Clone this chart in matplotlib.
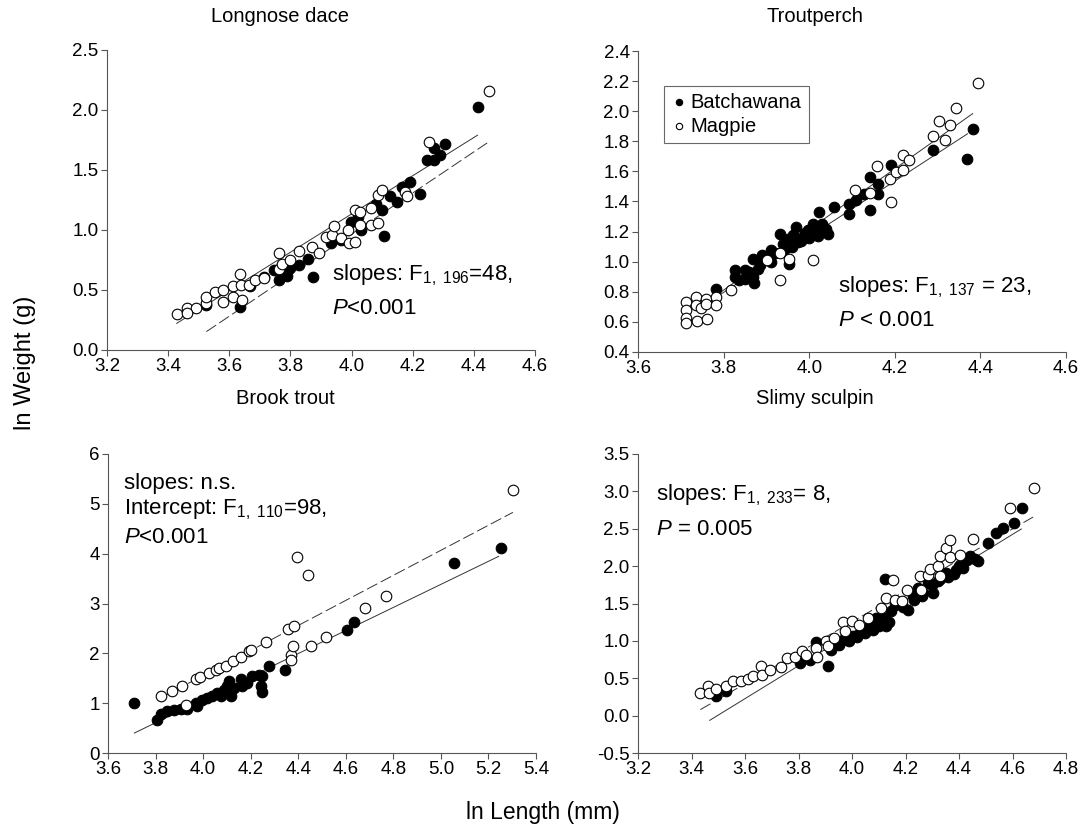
import numpy as np
import matplotlib
matplotlib.use('Agg')
import matplotlib.pyplot as plt
from matplotlib.ticker import FormatStrFormatter, MultipleLocator

plt.rcParams['font.family'] = ['Liberation Sans', 'DejaVu Sans']
plt.rcParams['mathtext.fontset'] = 'custom'
plt.rcParams['mathtext.rm'] = 'Liberation Sans'
plt.rcParams['mathtext.it'] = 'Liberation Sans:italic'

## data (ln length, ln weight)
# Longnose dace
dace_bat_x = [3.525, 3.635, 3.668, 3.712, 3.745, 3.762, 3.775, 3.79, 3.80, 3.828, 3.856, 3.874,
              3.933, 3.966, 3.999, 4.02, 4.03, 4.08, 4.098, 4.107, 4.126, 4.148, 4.165, 4.192,
              4.225, 4.247, 4.269, 4.269, 4.29, 4.307, 4.412]
dace_bat_y = [0.375, 0.36, 0.53, 0.61, 0.667, 0.58, 0.62, 0.617, 0.68, 0.708, 0.756, 0.606,
              0.89, 0.917, 1.07, 1.11, 1.0, 1.22, 1.167, 0.95, 1.28, 1.236, 1.36, 1.40,
              1.297, 1.583, 1.68, 1.583, 1.625, 1.717, 2.022]
dace_mag_x = [3.428, 3.462, 3.492, 3.462, 3.525, 3.525, 3.553, 3.58, 3.58, 3.611, 3.611, 3.635,
              3.638, 3.64, 3.663, 3.685, 3.712, 3.762, 3.762, 3.773, 3.80, 3.828, 3.872, 3.894,
              3.916, 3.935, 3.944, 3.964, 3.988, 3.99, 4.01, 4.01, 4.026, 4.026, 4.065, 4.065,
              4.087, 4.087, 4.098, 4.175, 4.18, 4.252, 4.45]
dace_mag_y = [0.30, 0.347, 0.353, 0.306, 0.394, 0.444, 0.486, 0.50, 0.40, 0.533, 0.444, 0.63,
              0.54, 0.42, 0.54, 0.583, 0.597, 0.81, 0.672, 0.72, 0.75, 0.828, 0.86, 0.81,
              0.94, 0.96, 1.03, 0.93, 1.0, 0.89, 0.90, 1.167, 1.153, 1.04, 1.18, 1.04,
              1.06, 1.29, 1.33, 1.32, 1.28, 1.736, 2.158]
dace_fit_solid = ([3.428, 4.412], [0.222, 1.79])
dace_fit_dash = ([3.525, 4.445], [0.153, 1.728])

# Troutperch
trout_bat_x = [3.783, 3.826, 3.826, 3.837, 3.849, 3.849, 3.868, 3.868, 3.884, 3.89, 3.911, 3.911,
               3.931, 3.938, 3.95, 3.953, 3.962, 3.97, 3.974, 3.985, 3.997, 4.009, 4.009, 4.024,
               4.024, 4.044, 4.059, 4.094, 4.094, 4.11, 4.129, 4.141, 4.143, 4.16, 4.16, 4.19,
               4.29, 4.368, 4.382, 3.86, 3.88, 3.90, 3.92, 3.94, 3.96, 3.98, 4.0, 4.02, 4.03,
               3.87, 3.95, 3.99, 4.04]
trout_bat_y = [0.821, 0.943, 0.898, 0.876, 0.947, 0.887, 0.898, 1.02, 0.976, 1.042, 1.075, 0.998,
               1.186, 1.12, 1.142, 0.987, 1.175, 1.23, 1.131, 1.164, 1.208, 1.186, 1.253, 1.33,
               1.208, 1.182, 1.363, 1.386, 1.315, 1.408, 1.452, 1.563, 1.346, 1.518, 1.452, 1.64,
               1.744, 1.685, 1.884, 0.93, 0.95, 1.02, 1.06, 1.08, 1.10, 1.14, 1.16, 1.17, 1.25,
               0.86, 1.15, 1.19, 1.22]
trout_mag_x = [3.713, 3.713, 3.713, 3.713, 3.736, 3.736, 3.738, 3.748, 3.76, 3.76, 3.761, 3.783,
               3.783, 3.818, 3.901, 3.931, 3.931, 3.952, 4.009, 4.108, 4.142, 4.159, 4.188, 4.19,
               4.203, 4.219, 4.219, 4.234, 4.29, 4.304, 4.318, 4.329, 4.343, 4.394]
trout_mag_y = [0.732, 0.677, 0.628, 0.593, 0.765, 0.71, 0.606, 0.695, 0.754, 0.72, 0.62, 0.765,
               0.71, 0.814, 1.009, 1.058, 0.876, 1.02, 1.009, 1.474, 1.456, 1.634, 1.552, 1.397,
               1.596, 1.607, 1.707, 1.678, 1.833, 1.935, 1.811, 1.906, 2.023, 2.19]
trout_fit_a = ([3.783, 4.382], [0.777, 1.984])
trout_fit_b = ([3.783, 4.37], [0.765, 1.85])

# Brook trout
brook_bat_x = [3.711, 3.804, 3.821, 3.849, 3.877, 3.905, 3.933, 3.968, 3.975, 3.996, 4.017, 4.038,
               4.06, 4.074, 4.088, 4.102, 4.109, 4.116, 4.13, 4.158, 4.165, 4.186, 4.207, 4.235,
               4.242, 4.249, 4.249, 4.277, 4.343, 4.605, 4.636, 5.055, 5.251]
brook_bat_y = [1.003, 0.669, 0.789, 0.836, 0.87, 0.883, 0.883, 1.003, 0.936, 1.07, 1.104, 1.15,
               1.204, 1.137, 1.271, 1.338, 1.438, 1.137, 1.304, 1.485, 1.338, 1.405, 1.538, 1.572,
               1.338, 1.538, 1.217, 1.753, 1.659, 2.462, 2.629, 3.813, 4.107]
brook_mag_x = [3.821, 3.87, 3.912, 3.93, 3.968, 3.989, 4.024, 4.053, 4.067, 4.095, 4.127, 4.158,
               4.193, 4.203, 4.263, 4.358, 4.369, 4.369, 4.38, 4.383, 4.393, 4.442, 4.453, 4.516,
               4.681, 4.769, 5.303]
brook_mag_y = [1.15, 1.24, 1.34, 0.97, 1.485, 1.525, 1.605, 1.66, 1.706, 1.753, 1.84, 1.926,
               2.04, 2.074, 2.221, 2.488, 1.973, 1.873, 2.14, 2.555, 3.933, 3.579, 2.154, 2.328,
               2.91, 3.144, 5.284]
brook_fit_solid = ([3.711, 5.243], [0.401, 3.946])
brook_fit_dash = ([3.821, 5.303], [1.104, 4.829])

# Slimy sculpin
sculp_bat_x = [3.493, 3.53, 3.804, 3.842, 3.867, 3.91, 3.923, 3.966, 3.979, 4.004, 4.029, 4.054,
               4.066, 4.091, 4.116, 4.122, 4.128, 4.147, 4.16, 4.209, 4.228, 4.247, 4.266, 4.284,
               4.303, 4.328, 4.353, 4.39, 4.415, 4.44, 4.471, 4.508, 4.54, 4.565, 4.604, 4.637,
               3.95, 3.99, 4.02, 4.05, 4.08, 4.10, 4.12, 4.14, 4.19, 4.23, 4.26, 4.30, 4.32,
               4.36, 4.38, 4.40, 4.43, 4.46]
sculp_bat_y = [0.258, 0.325, 0.704, 0.749, 0.981, 0.668, 0.882, 1.016, 1.083, 1.061, 1.105, 1.15,
               1.217, 1.306, 1.239, 1.828, 1.194, 1.395, 1.484, 1.418, 1.605, 1.708, 1.641, 1.774,
               1.641, 1.828, 1.908, 1.953, 1.975, 2.131, 2.064, 2.309, 2.443, 2.51, 2.577, 2.778,
               0.95, 1.0, 1.05, 1.10, 1.15, 1.20, 1.30, 1.25, 1.45, 1.55, 1.60, 1.75, 1.80,
               1.85, 1.90, 2.00, 2.08, 2.10]
sculp_mag_x = [3.433, 3.462, 3.465, 3.493, 3.528, 3.555, 3.586, 3.611, 3.63, 3.661, 3.665, 3.692,
               3.736, 3.757, 3.786, 3.814, 3.829, 3.867, 3.869, 3.904, 3.91, 3.931, 3.966, 3.973,
               4.001, 4.026, 4.06, 4.11, 4.126, 4.153, 4.16, 4.188, 4.206, 4.253, 4.259, 4.284,
               4.29, 4.321, 4.328, 4.328, 4.353, 4.365, 4.368, 4.403, 4.452, 4.589, 4.679]
sculp_mag_y = [0.30, 0.392, 0.303, 0.356, 0.392, 0.459, 0.459, 0.49, 0.535, 0.659, 0.548, 0.615,
               0.65, 0.771, 0.784, 0.86, 0.815, 0.905, 0.784, 0.994, 0.927, 1.039, 1.248, 1.128,
               1.261, 1.217, 1.306, 1.44, 1.574, 1.819, 1.551, 1.529, 1.676, 1.872, 1.685, 1.886,
               1.961, 1.997, 1.872, 2.131, 2.242, 2.354, 2.122, 2.153, 2.367, 2.778, 3.045]
sculp_fit_dash = ([3.433, 4.677], [0.08, 2.657])
sculp_fit_solid = ([3.468, 4.633], [-0.063, 2.497])

W, H = 1086, 839
fig = plt.figure(figsize=(W / 100, H / 100), dpi=100)

def px_axes(left, top, right, bottom):
    return fig.add_axes([left / W, 1 - bottom / H, (right - left) / W, (bottom - top) / H])

ms = 58
def style(ax, xlim, xstep, ylim, ystep, yfmt):
    ax.set_xlim(*xlim)
    ax.set_ylim(*ylim)
    ax.xaxis.set_major_locator(MultipleLocator(xstep))
    ax.yaxis.set_major_locator(MultipleLocator(ystep))
    ax.xaxis.set_major_formatter(FormatStrFormatter('%.1f'))
    ax.yaxis.set_major_formatter(FormatStrFormatter(yfmt))
    for s in ['top', 'right']:
        ax.spines[s].set_visible(False)
    for s in ['left', 'bottom']:
        ax.spines[s].set_color('#555555')
        ax.spines[s].set_linewidth(0.8)
    ax.spines['bottom'].set_linestyle((0, (1, 1)))
    ax.tick_params(axis='both', labelsize=13.5, color='#555555', width=0.8, length=4, pad=2)

def draw(ax, bx, by, mx, my, fits):
    for (fx, fy), ls in fits:
        ax.plot(fx, fy, color='#333333', lw=0.7, ls=ls, zorder=1)
    ax.scatter(bx, by, s=ms, c='black', edgecolors='black', linewidths=0.8, zorder=2,
               label='Batchawana')
    ax.scatter(mx, my, s=ms, c='white', edgecolors='black', linewidths=0.8, zorder=3,
               label='Magpie')

dash = (0, (12, 4))
fs = 16

ax1 = px_axes(107, 50, 535, 350)
draw(ax1, dace_bat_x, dace_bat_y, dace_mag_x, dace_mag_y,
     [(dace_fit_solid, '-'), (dace_fit_dash, dash)])
style(ax1, (3.2, 4.6), 0.2, (0, 2.5), 0.5, '%.1f')
ax1.text(0.525, 0.25, 'slopes: F$_{1,\\ 196}$=48,', transform=ax1.transAxes,
         fontsize=fs, va='center')
ax1.text(0.525, 0.14, '$\\mathit{P}$<0.001', transform=ax1.transAxes,
         fontsize=fs, va='center')

ax2 = px_axes(638, 51, 1066, 352)
draw(ax2, trout_bat_x, trout_bat_y, trout_mag_x, trout_mag_y,
     [(trout_fit_a, '-'), (trout_fit_b, '-')])
style(ax2, (3.6, 4.6), 0.2, (0.4, 2.4), 0.2, '%.1f')
ax2.text(0.467, 0.216, 'slopes: F$_{1,\\ 137}$ = 23,', transform=ax2.transAxes,
         fontsize=fs, va='center')
ax2.text(0.467, 0.106, '$\\mathit{P}$ < 0.001', transform=ax2.transAxes,
         fontsize=fs, va='center')
leg = ax2.legend(loc='upper left', bbox_to_anchor=(0.06, 0.885), fontsize=14.5,
                 frameon=True, fancybox=False, handletextpad=0.2, borderpad=0.35,
                 labelspacing=0.25, handlelength=0.8, markerscale=0.6, borderaxespad=0)
leg.get_frame().set_edgecolor('#444444')
leg.get_frame().set_linewidth(0.8)

ax3 = px_axes(108, 454, 536, 753)
draw(ax3, brook_bat_x, brook_bat_y, brook_mag_x, brook_mag_y,
     [(brook_fit_solid, '-'), (brook_fit_dash, dash)])
style(ax3, (3.6, 5.4), 0.2, (0, 6), 1, '%d')
ax3.text(0.037, 0.90, 'slopes: n.s.', transform=ax3.transAxes, fontsize=fs, va='center')
ax3.text(0.037, 0.815, 'Intercept: F$_{1,\\ 110}$=98,', transform=ax3.transAxes,
         fontsize=fs, va='center')
ax3.text(0.037, 0.72, '$\\mathit{P}$<0.001', transform=ax3.transAxes,
         fontsize=fs, va='center')

ax4 = px_axes(638, 454, 1066, 753)
draw(ax4, sculp_bat_x, sculp_bat_y, sculp_mag_x, sculp_mag_y,
     [(sculp_fit_dash, dash), (sculp_fit_solid, '-')])
style(ax4, (3.2, 4.8), 0.2, (-0.5, 3.5), 0.5, '%.1f')
ax4.text(0.042, 0.863, 'slopes: F$_{1,\\ 233}$= 8,', transform=ax4.transAxes,
         fontsize=fs, va='center')
ax4.text(0.042, 0.746, '$\\mathit{P}$ = 0.005', transform=ax4.transAxes,
         fontsize=fs, va='center')

# panel titles
for txt, x, y in [('Longnose dace', 280, 17), ('Troutperch', 815, 17),
                  ('Brook trout', 285, 398), ('Slimy sculpin', 815, 398)]:
    fig.text(x / W, 1 - y / H, txt, ha='center', va='center', fontsize=14.5)

fig.text(25 / W, 1 - 363 / H, 'ln Weight (g)', rotation=90, ha='center', va='center',
         fontsize=17)
fig.text(543 / W, 1 - 812 / H, 'ln Length (mm)', ha='center', va='center', fontsize=16.5)

fig.savefig('out.png', dpi=100)
